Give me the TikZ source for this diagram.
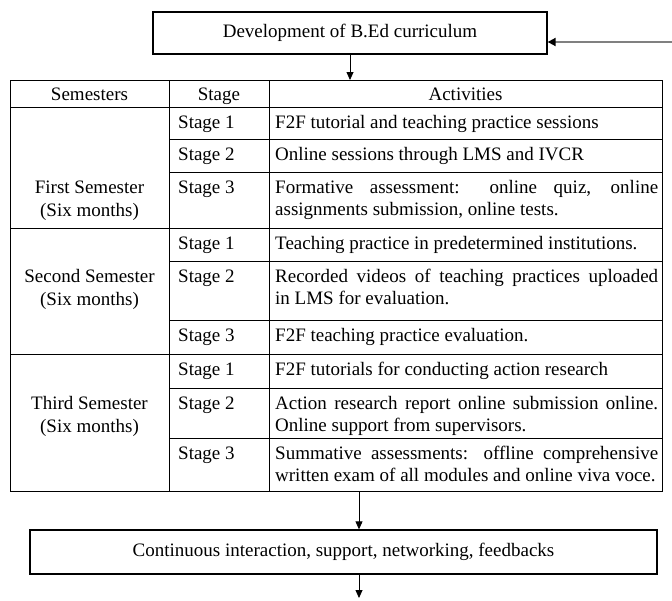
\documentclass[tikz,border=0pt]{standalone}
\usepackage{fontspec}
\setmainfont{Liberation Serif}
\usetikzlibrary{arrows.meta}
\newcommand\cellfont{\fontsize{19}{21.5}\selectfont\hyphenpenalty=10000\hbadness=10000}
\begin{document}
\begin{tikzpicture}[x=1pt,y=-1pt,
  box/.style={draw, line width=1.3pt, inner sep=0pt, font=\cellfont},
  gridline/.style={line width=0.9pt},
  txt/.style={anchor=base, inner sep=0pt, font=\cellfont},
  stagecell/.style={anchor=north west, inner sep=0pt, font=\cellfont},
  actcell/.style={anchor=north west, inner sep=0pt, font=\cellfont, text width=383pt, align=justify},
  arr/.style={line width=0.8pt, -{Triangle[length=8pt,width=7pt]}},
  fbarr/.style={draw=black!50, line width=1.8pt, -{Triangle[length=8pt,width=8pt,color=black]}}
]
\useasboundingbox (0,0) rectangle (672,600);

% top box
\node[box, minimum width=394pt, minimum height=42pt] (top) at (350,33) {Development of B.Ed curriculum};

% table frame
\node[draw, line width=0.9pt, minimum width=652pt, minimum height=411pt, anchor=north west, inner sep=0pt] (tbl) at (10,80) {};

% table grid
\draw[gridline] (10,107) -- (662,107);
\draw[gridline] (10,228) -- (662,228);
\draw[gridline] (10,354) -- (662,354);
\foreach \yy in {139,172,261,320,388,438}
  \draw[gridline] (169,\yy) -- (662,\yy);
\draw[gridline] (169,80) -- (169,491);
\draw[gridline] (269,80) -- (269,491);

% header
\node[txt] (hsem) at (89.5,100) {Semesters};
\node[txt] (hstage) at (219,100) {Stage};
\node[txt] (hact) at (465.5,100) {Activities};

% semester labels
\node[txt] (s1a) at (89.5,193.5) {First Semester};
\node[txt] (s1b) at (89.5,216.5) {(Six months)};
\node[txt] (s2a) at (89.5,282.5) {Second Semester};
\node[txt] (s2b) at (89.5,305.5) {(Six months)};
\node[txt] (s3a) at (89.5,409.5) {Third Semester};
\node[txt] (s3b) at (89.5,432.5) {(Six months)};

% stages
\node[stagecell] (st11) at (178,113.5) {\strut Stage 1};
\node[stagecell] (st12) at (178,145.5) {\strut Stage 2};
\node[stagecell] (st13) at (178,178.5) {\strut Stage 3};
\node[stagecell] (st21) at (178,234.5) {\strut Stage 1};
\node[stagecell] (st22) at (178,267.5) {\strut Stage 2};
\node[stagecell] (st23) at (178,326.5) {\strut Stage 3};
\node[stagecell] (st31) at (178,360.5) {\strut Stage 1};
\node[stagecell] (st32) at (178,394.5) {\strut Stage 2};
\node[stagecell] (st33) at (178,444.5) {\strut Stage 3};

% activities
\node[actcell] (a11) at (275,113.5) {\strut F2F tutorial and teaching practice sessions};
\node[actcell] (a12) at (275,145.5) {\strut Online sessions through LMS and IVCR};
\node[actcell] (a13) at (275,178.5) {\strut Formative assessment: online quiz, online\linebreak assignments submission, online tests.};
\node[actcell] (a21) at (275,234.5) {\strut Teaching practice in predetermined institutions.};
\node[actcell] (a22) at (275,267.5) {\strut Recorded videos of teaching practices uploaded\linebreak in LMS for evaluation.};
\node[actcell] (a23) at (275,326.5) {\strut F2F teaching practice evaluation.};
\node[actcell] (a31) at (275,360.5) {\strut F2F tutorials for conducting action research};
\node[actcell] (a32) at (275,394.5) {\strut Action research report online submission online.\linebreak Online support from supervisors.};
\node[actcell] (a33) at (275,444.5) {\strut Summative assessments: offline comprehensive\linebreak written exam of all modules and online viva voce.};

% bottom box
\node[box, minimum width=627pt, minimum height=44pt] (bot) at (343.5,552) {Continuous interaction, support, networking, feedbacks};

% connectors
\coordinate (c1) at (359,491);
\coordinate (endp) at (359,598);
\coordinate (fbstart) at (672,42);
\draw[arr] (top.south -| 350,0) -- (tbl.north -| 350,0);
\draw[arr] (c1) -- (c1 |- bot.north);
\draw[arr] (c1 |- bot.south) -- (endp);
\draw[fbarr] (fbstart) -- (fbstart -| top.east);
\end{tikzpicture}
\end{document}
